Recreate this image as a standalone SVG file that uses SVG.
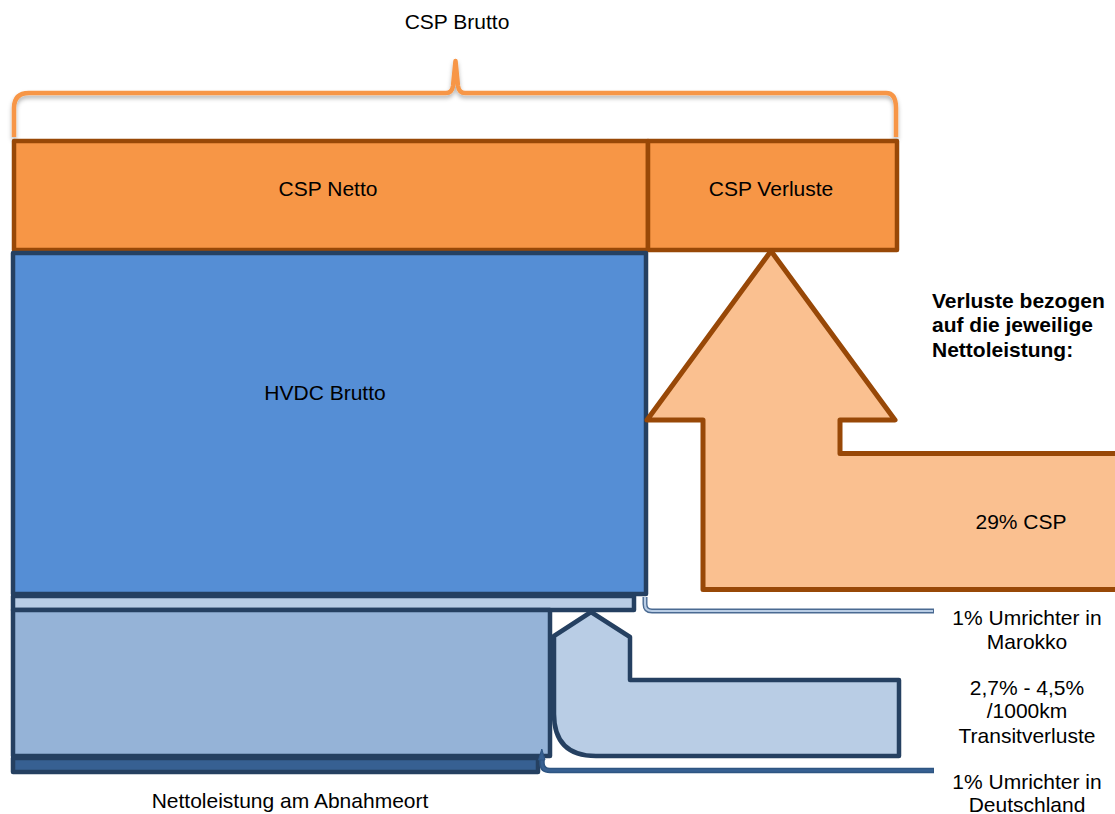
<svg xmlns="http://www.w3.org/2000/svg" width="1115" height="814" viewBox="0 0 1115 814">
  <defs>
    <style>
      .t { font-family: "Liberation Sans", Arial, sans-serif; font-size: 21px; fill: #000; text-anchor: middle; }
      .b { font-family: "Liberation Sans", Arial, sans-serif; font-size: 21px; font-weight: bold; fill: #000; }
      .csp { fill: #F79646; stroke: #984807; stroke-width: 4.5; stroke-linejoin: round; }
      .loss { fill: #FAC090; stroke: #984807; stroke-width: 5; stroke-linejoin: round; }
      .navy { stroke: #254061; stroke-width: 4.5; stroke-linejoin: round; }
    </style>
    <filter id="sh" x="-5%" y="-20%" width="110%" height="160%">
      <feDropShadow dx="0" dy="3" stdDeviation="2" flood-color="#000" flood-opacity="0.3"/>
    </filter>
  </defs>
  <rect width="1115" height="814" fill="#fff"/>

  <g id="brace">
    <path d="M 14 137 L 14 108 Q 14 93 29 93 L 446 93 Q 452 93 453 86 L 455.5 61 L 458 86 Q 459 93 465 93 L 886 93 Q 896 93 896 108 L 896 137" fill="none" stroke="#F79646" stroke-width="4.5" stroke-linejoin="round" filter="url(#sh)"/>
    <text class="t" x="457" y="29">CSP Brutto</text>
  </g>

  <g id="csp-netto">
    <rect class="csp" x="14" y="141" width="634" height="109"/>
    <text class="t" x="328" y="196">CSP Netto</text>
  </g>

  <g id="csp-verluste">
    <rect class="csp" x="648" y="141" width="249" height="109"/>
    <text class="t" x="771" y="196">CSP Verluste</text>
  </g>

  <g id="hvdc-brutto">
    <rect class="navy" x="13" y="253" width="633" height="341" fill="#558ED5"/>
    <text class="t" x="325" y="400">HVDC Brutto</text>
  </g>

  <g id="umrichter-marokko-strip">
    <rect class="navy" x="13" y="596" width="621" height="14" fill="#B9CDE5"/>
  </g>

  <g id="nettoleistung">
    <rect class="navy" x="13" y="610" width="537" height="146" fill="#95B3D7"/>
    <text class="t" x="290" y="808">Nettoleistung am Abnahmeort</text>
  </g>

  <g id="umrichter-deutschland-strip">
    <rect class="navy" x="13" y="758" width="525" height="14" fill="#376092"/>
  </g>

  <g id="csp-loss-arrow">
    <path class="loss" d="M 771 251 L 895 420 L 840 420 L 840 453.5 L 1125 453.5 L 1125 589.5 L 703 589.5 L 703 420 L 647 420 Z"/>
    <text class="t" x="1021" y="529">29% CSP</text>
  </g>

  <g id="transit-arrow">
    <path class="navy" fill="#B9CDE5" d="M 591 612 L 630 637 L 630 680 L 899 680 L 899 756 L 596 756 Q 554 756 554 714 L 554 636 Z"/>
  </g>

  <g id="connectors">
    <path d="M 645 597 L 645 604 Q 645 611 652 611 L 934 611" fill="none" stroke="#4A6A92" stroke-width="5"/>
    <path d="M 645 597 L 645 604 Q 645 611 652 611 L 933 611" fill="none" stroke="#B9CDE5" stroke-width="2.2"/>
    <path d="M 542 756 L 542 763 Q 542 770.5 550 770.5 L 934 770.5" fill="none" stroke="#2E5582" stroke-width="5.5"/>
    <path d="M 542 756 L 542 763 Q 542 770.5 550 770.5 L 933 770.5" fill="none" stroke="#376092" stroke-width="2.5"/>
    <polygon points="538.5,760 541.8,749 545,760" fill="#376092" stroke="#2E5582" stroke-width="1"/>
  </g>

  <g id="labels">
    <text class="b" x="932" y="308">Verluste bezogen</text>
    <text class="b" x="932" y="332">auf die jeweilige</text>
    <text class="b" x="932" y="357">Nettoleistung:</text>
    <text class="t" x="1027" y="625">1% Umrichter in</text>
    <text class="t" x="1027" y="649">Marokko</text>
    <text class="t" x="1027" y="695">2,7% - 4,5%</text>
    <text class="t" x="1027" y="718">/1000km</text>
    <text class="t" x="1027" y="743">Transitverluste</text>
    <text class="t" x="1027" y="789">1% Umrichter in</text>
    <text class="t" x="1027" y="812">Deutschland</text>
  </g>
</svg>
